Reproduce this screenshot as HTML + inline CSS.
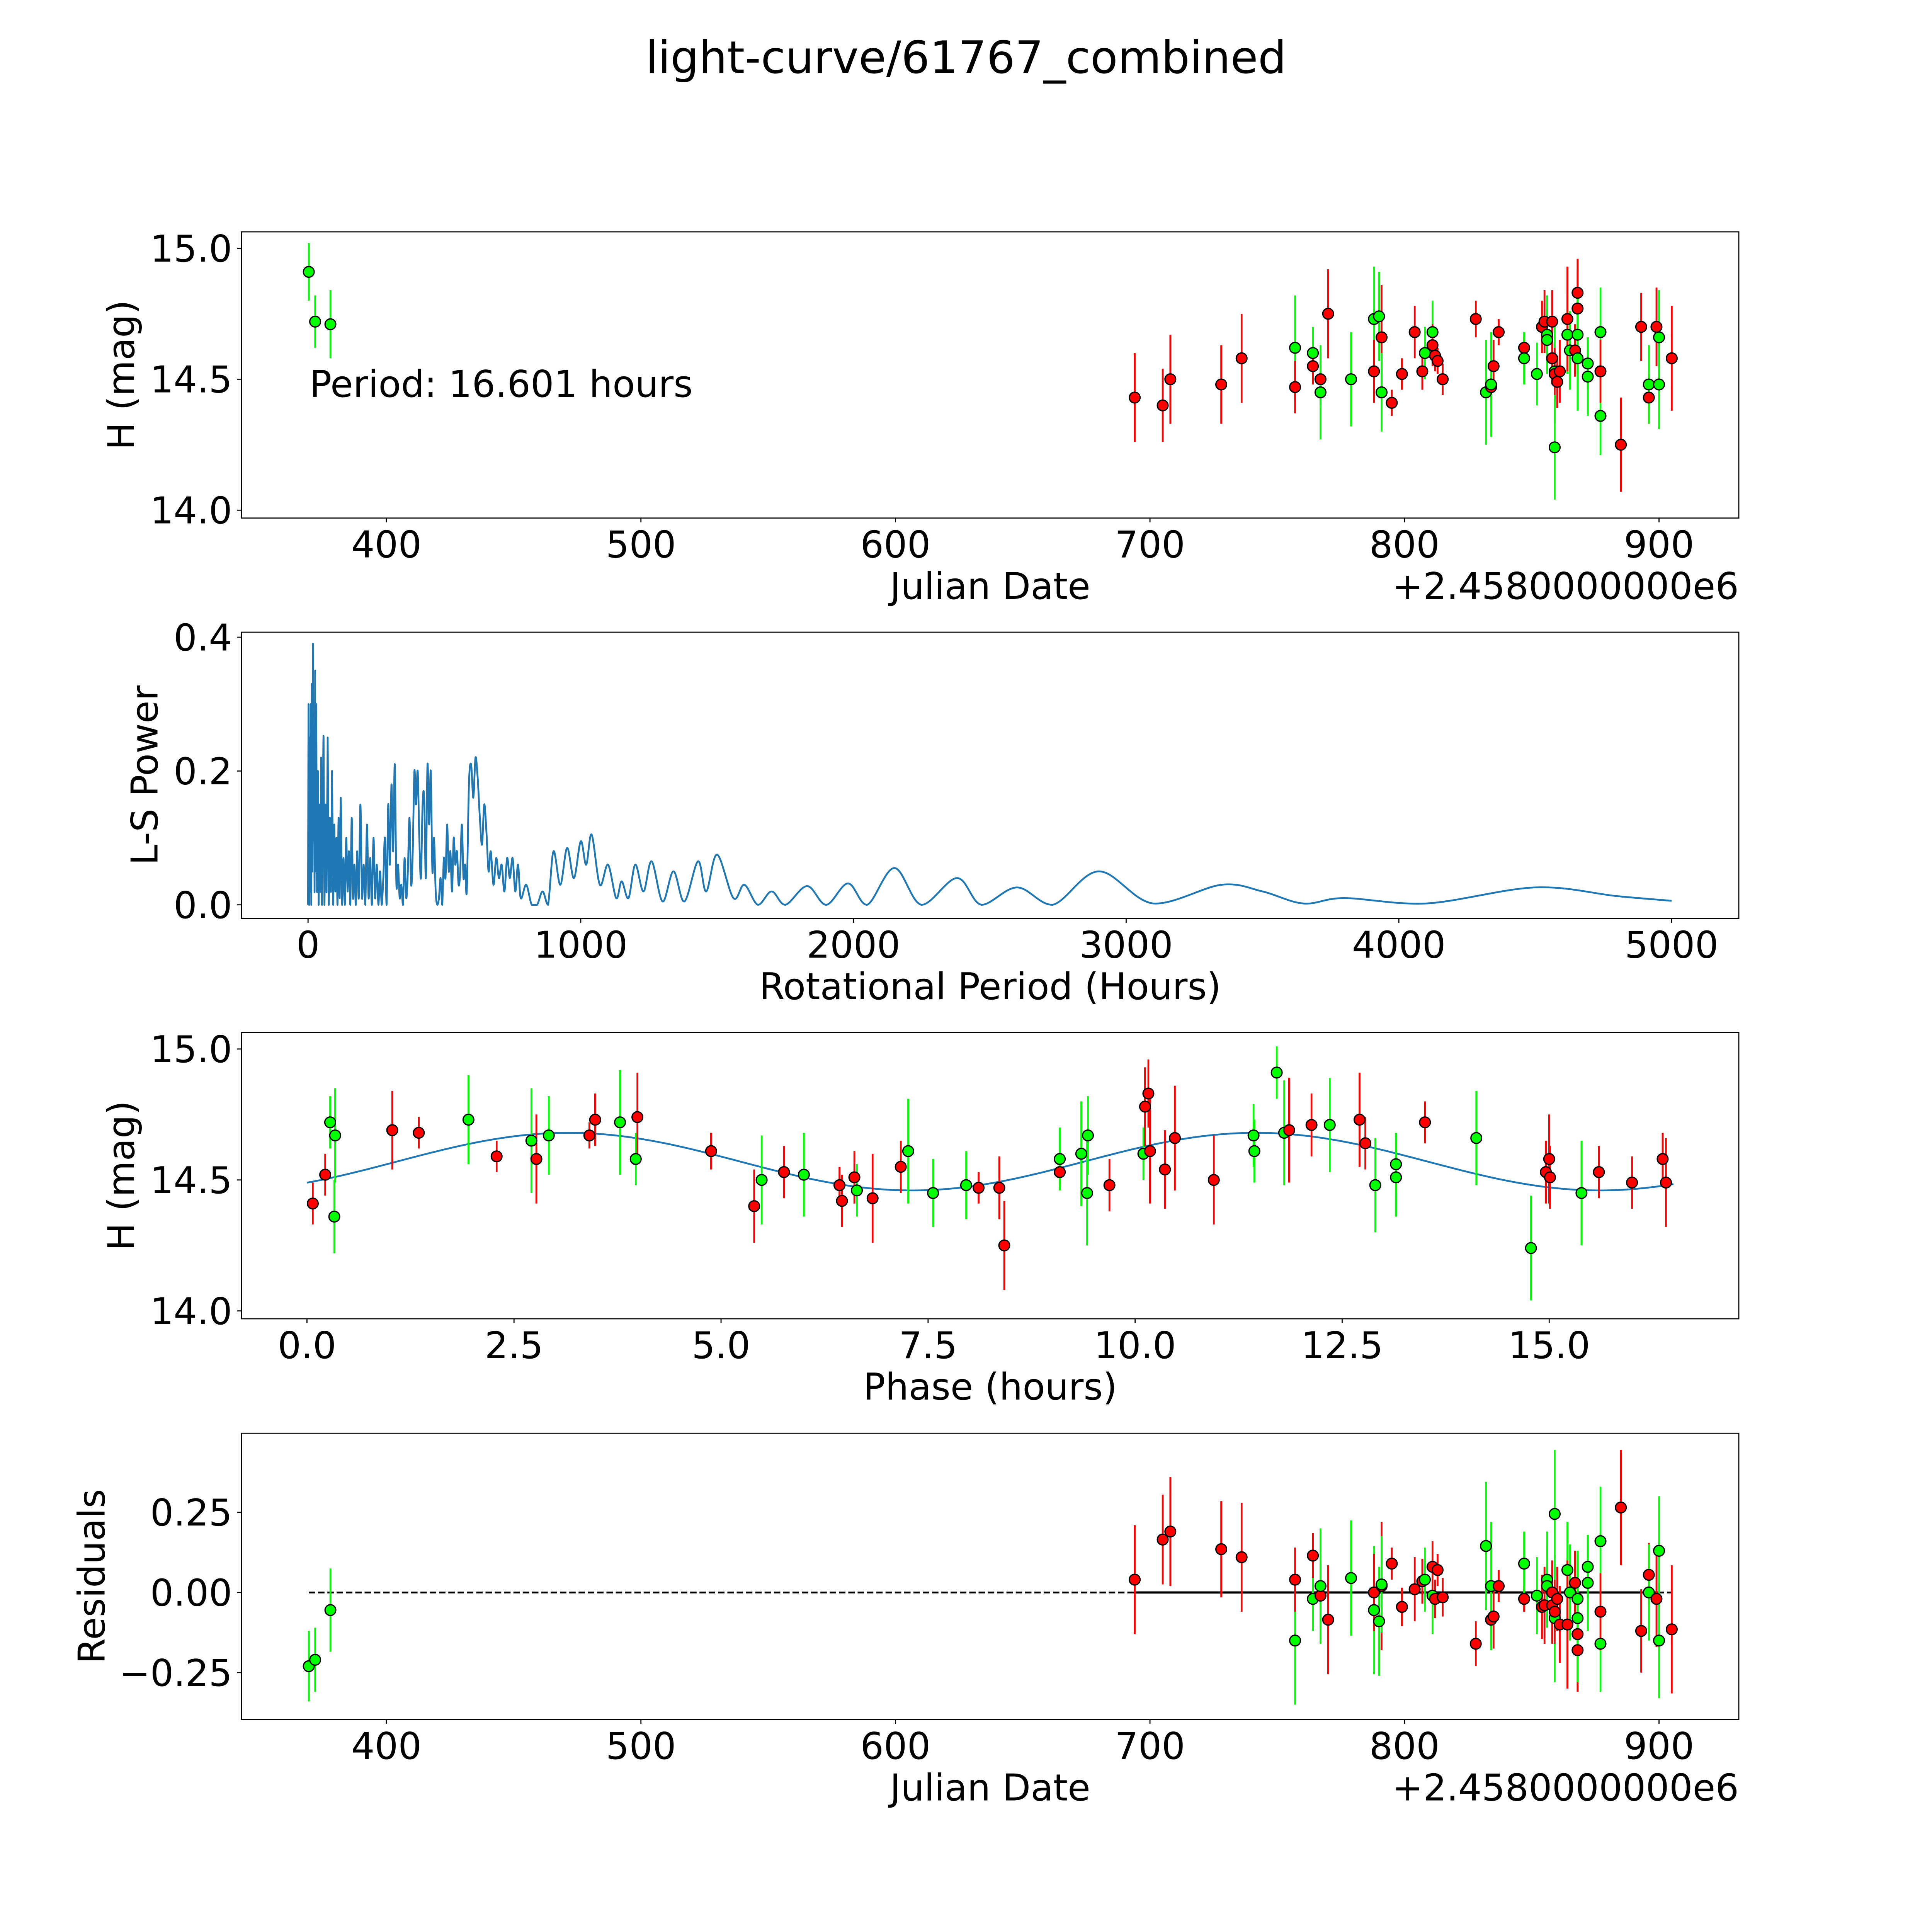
<!DOCTYPE html>
<html><head><meta charset="utf-8"><style>
html,body{margin:0;padding:0;background:#fff;width:100%;height:100%;overflow:hidden}
svg{display:block;width:100vw;height:100vh}
text{font-family:"DejaVu Sans","Liberation Sans",sans-serif;fill:#000}
</style></head><body>
<svg id="fig" xmlns="http://www.w3.org/2000/svg" viewBox="0 0 5400 5400" preserveAspectRatio="none">
<rect width="5400" height="5400" fill="#fff"/>
<text x="2700" y="204" font-size="125" text-anchor="middle">light-curve/61767_combined</text>
</svg>
<script>
// ---------- Panel 1: light curve ----------
const jd1 =  [369.5,372,378,694,705,708,728,736,757,757,764,764,767,767,770,779,788,788,790,791,791,795,799,804,807,808,811,811,812,813,815,828,832,834,834,835,837,847,847,852,854,855,856,856,858,858,859,859,859,860,861,864,864,865,867,868,868,868,868,872,872,877,877,877,885,893,896,896,900,900,899,905];
const mag1 = [14.91,14.72,14.71,14.43,14.40,14.50,14.48,14.58,14.62,14.47,14.60,14.55,14.50,14.45,14.75,14.50,14.73,14.53,14.74,14.66,14.45,14.41,14.52,14.68,14.53,14.60,14.68,14.63,14.59,14.57,14.50,14.73,14.45,14.47,14.48,14.55,14.68,14.62,14.58,14.52,14.70,14.72,14.67,14.65,14.72,14.58,14.53,14.52,14.24,14.49,14.53,14.67,14.73,14.61,14.61,14.77,14.83,14.67,14.58,14.56,14.51,14.68,14.36,14.53,14.25,14.70,14.43,14.48,14.48,14.66,14.70,14.58];
const err1 = [0.11,0.10,0.13,0.17,0.14,0.17,0.15,0.17,0.20,0.10,0.10,0.07,0.10,0.18,0.17,0.18,0.20,0.12,0.17,0.20,0.15,0.05,0.06,0.10,0.07,0.10,0.12,0.08,0.06,0.05,0.06,0.07,0.20,0.08,0.20,0.10,0.05,0.04,0.10,0.12,0.10,0.12,0.15,0.12,0.12,0.10,0.20,0.10,0.20,0.10,0.12,0.15,0.20,0.15,0.10,0.15,0.13,0.15,0.20,0.10,0.15,0.17,0.15,0.12,0.18,0.13,0.10,0.15,0.17,0.18,0.15,0.20];
const band1 = ["g","g","g","r","r","r","r","r","g","r","g","r","r","g","r","g","g","r","g","r","g","r","r","r","r","g","g","r","r","r","r","r","g","r","g","r","r","r","g","g","r","r","g","g","r","r","g","r","g","r","r","g","r","g","r","r","r","g","g","g","g","g","g","r","r","r","r","g","g","g","r","r"];
// ---------- Panel 4: residuals ----------
const res4 = [-0.23,-0.21,-0.055,0.04,0.165,0.19,0.135,0.11,-0.15,0.04,-0.02,0.115,-0.01,0.02,-0.085,0.045,-0.055,0.0,-0.09,0.02,0.025,0.09,-0.045,0.01,0.035,0.04,-0.01,0.08,-0.02,0.07,-0.015,-0.16,0.145,-0.085,0.02,-0.075,0.02,-0.02,0.09,-0.01,-0.045,-0.04,0.04,0.02,-0.04,0.0,-0.08,-0.06,0.245,-0.02,-0.1,0.07,-0.1,0.0,0.03,-0.13,-0.18,-0.02,-0.08,0.08,0.03,0.16,-0.16,-0.06,0.265,-0.12,0.055,0.0,0.13,-0.15,-0.02,-0.115];
// ---------- Panel 3: phased ----------
const phase3 = [0.07,0.22,0.28,0.34,0.33,1.03,1.35,1.95,2.29,2.71,2.77,2.92,3.41,3.48,3.78,3.99,3.97,4.88,5.40,5.49,5.76,6.00,6.43,6.46,6.61,6.64,6.83,7.17,7.26,7.56,7.96,8.11,8.36,8.42,9.09,9.09,9.35,9.43,9.42,9.69,10.1,10.12,10.16,10.18,10.36,10.48,10.95,11.43,11.44,11.71,11.8,11.86,12.13,12.35,12.71,12.78,12.9,13.15,13.15,13.5,14.12,14.78,14.96,15.0,15.01,15.39,15.6,16.0,16.37,16.41];
const pmag3 = [14.41,14.52,14.72,14.67,14.36,14.69,14.68,14.73,14.59,14.65,14.58,14.67,14.67,14.73,14.72,14.74,14.58,14.61,14.40,14.50,14.53,14.52,14.48,14.42,14.51,14.46,14.43,14.55,14.61,14.45,14.48,14.47,14.47,14.25,14.53,14.58,14.60,14.67,14.45,14.48,14.60,14.78,14.83,14.61,14.54,14.66,14.50,14.67,14.61,14.91,14.68,14.69,14.71,14.71,14.73,14.64,14.48,14.56,14.51,14.72,14.66,14.24,14.53,14.58,14.51,14.45,14.53,14.49,14.58,14.49];
const perr3 = [0.08,0.08,0.1,0.18,0.14,0.15,0.06,0.17,0.06,0.2,0.17,0.15,0.05,0.1,0.2,0.17,0.1,0.07,0.14,0.17,0.1,0.16,0.07,0.1,0.1,0.1,0.17,0.1,0.2,0.13,0.13,0.06,0.12,0.17,0.05,0.12,0.2,0.15,0.2,0.1,0.1,0.15,0.13,0.2,0.15,0.2,0.17,0.12,0.12,0.1,0.2,0.2,0.12,0.18,0.18,0.1,0.18,0.12,0.15,0.08,0.18,0.2,0.12,0.17,0.12,0.2,0.1,0.1,0.1,0.17];
const pband3 = ["r","r","g","g","g","r","r","g","r","g","r","g","r","r","g","r","g","r","r","g","r","g","r","r","r","g","r","r","g","g","g","r","r","r","r","g","g","g","g","r","g","r","r","r","r","r","r","g","g","g","g","r","r","g","r","r","g","g","g","r","g","g","r","r","r","g","r","r","r","r"];
const modelParams = [14.57, 0.11, 0.82, 16.601]; // mean, amplitude, phase offset, period
// ---------- Panel 2: periodogram ----------
const lsPeriod = [0,2,4,6,8,10,12,14,16,18,20,22,24,26,28,30,33,36,39,42,45,48,51,54,57,60,64,68,72,76,80,84,88,92,96,100,104,108,112,116,120,125,130,135,140,145,150,155,160,165,170,175,180,186,192,198,204,210,216,222,228,234,240,246,252,258,264,270,276,282,288,294,300,306,312,318,324,330,336,342,348,354,360,366,372,378,384,390,396,402,408,414,420,426,432,438,444,450,456,462,468,474,480,486,492,498,504,510,516,522,528,534,540,546,552,558,564,570,576,582,590,598,606,614,622,630,638,646,654,662,670,680,690,700,710,720,730,740,750,760,770,780,800,820,840,860,880,900,925,950,975,1000,1020,1040,1070,1100,1130,1150,1175,1200,1230,1260,1300,1340,1380,1430,1460,1500,1560,1600,1650,1700,1750,1830,1900,1980,2050,2150,2250,2380,2470,2600,2730,2900,3100,3350,3500,3650,3800,4100,4500,4800,5000];
const lsPower = [0,0.3,0,0.25,0.02,0.3,0,0.33,0.05,0.39,0.1,0.2,0.02,0.35,0.05,0.3,0.02,0.2,0,0.15,0.02,0.22,0,0.12,0.25,0,0.15,0.02,0.25,0,0.13,0.02,0.2,0,0.12,0.02,0.1,0,0.13,0.01,0.16,0,0.07,0,0.1,0.02,0.08,0,0.13,0.01,0.06,0,0.08,0.01,0.15,0.01,0.06,0,0.12,0.01,0.07,0,0.1,0.01,0.06,0,0.05,0,0.04,0.1,0,0.15,0.06,0.18,0.08,0.21,0.03,0.06,0.01,0.03,0,0.07,0.01,0.05,0.13,0.03,0.08,0.2,0.15,0.2,0.1,0.04,0.15,0.16,0.04,0.21,0.12,0.2,0.05,0.1,0.02,0,0.01,0.04,0,0.07,0.04,0.12,0.05,0.08,0.02,0.1,0.06,0.08,0.03,0.05,0.12,0.04,0.06,0.02,0.18,0.21,0.16,0.22,0.19,0.13,0.09,0.15,0.11,0.05,0.08,0.03,0.07,0.04,0.06,0.02,0.07,0.04,0.07,0.02,0.06,0.01,0.03,0,0,0.02,0,0.08,0.03,0.085,0.04,0.095,0.06,0.105,0.03,0.06,0.01,0.035,0.01,0.06,0.02,0.065,0.005,0.05,0.005,0.065,0.02,0.075,0.01,0.03,0,0.02,0,0.028,0,0.032,0,0.055,0,0.04,0,0.026,0,0.05,0.002,0.03,0.02,0.002,0.01,0.002,0.026,0.013,0.006];

const NS='http://www.w3.org/2000/svg';
const svg=document.getElementById('fig');
function el(tag,attrs,parent){const e=document.createElementNS(NS,tag);for(const k in attrs)e.setAttribute(k,attrs[k]);(parent||svg).appendChild(e);return e;}
const L=675,R=4860,H=800,FS=103;
const tops=[648,1767,2886,4006];
const COL={g:'#00ff00',r:'#ff0000'};
function lin(d0,p0,d1,p1){return v=>p0+(v-d0)*(p1-p0)/(d1-d0);}
const xJD=lin(400,1080,900,4637);
const y1=lin(15,694,14,1426);
const xLS=lin(0,861,5000,4672);
const y2=lin(0,2529,0.4,1781);
const xPh=lin(0,858,15,4330);
const y3=lin(15,2932,14,3664);
const y4=lin(0,4451,0.25,4227);

function frame(i,name){
  const t=tops[i];
  const r=el('rect',{x:L,y:t,width:R-L,height:H,fill:'none',stroke:'#000','stroke-width':3});
  
  
}
function xtick(i,x,label,name){
  const b=tops[i]+H;
  const l=el('line',{x1:x,y1:b,x2:x,y2:b+12,stroke:'#000','stroke-width':3});
  
  
  const t=el('text',{x:x,y:b+110,'font-size':FS,'text-anchor':'middle'});t.textContent=label;
  
  
}
function ytick(y,label,name){
  const l=el('line',{x1:L-12,y1:y,x2:L,y2:y,stroke:'#000','stroke-width':3});
  
  
  const t=el('text',{x:L-26,y:y+37,'font-size':FS,'text-anchor':'end'});t.textContent=label;
  
  
}
function xlabel(i,label,name){
  const t=el('text',{x:(L+R)/2,y:tops[i]+H+226,'font-size':FS,'text-anchor':'middle'});t.textContent=label;
  
  
}
function ylabel(i,x,label,name){
  const cy=tops[i]+H/2;
  const t=el('text',{x:0,y:0,'font-size':FS,'text-anchor':'middle',transform:`translate(${x},${cy}) rotate(-90)`});t.textContent=label;
  
  
}
function offsetText(i){
  const t=el('text',{x:R,y:tops[i]+H+226,'font-size':FS,'text-anchor':'end'});t.textContent='+2.4580000000e6';
  
  
}
function points(xs,ys,es,bands,fx,fy,scale,name){
  const g=el('g',{});
  
  
  for(let k=0;k<xs.length;k++){
    const x=fx(xs[k]),y=fy(ys[k]),e=es[k]*scale;
    const l=el('line',{x1:x,y1:y-e,x2:x,y2:y+e,stroke:COL[bands[k]],'stroke-width':5},g);
    
    
  }
  for(let k=0;k<xs.length;k++){
    const c=el('circle',{cx:fx(xs[k]),cy:fy(ys[k]),r:15,fill:COL[bands[k]],stroke:'#000','stroke-width':3.5},g);
    
    
  }
}

// Panel 1
frame(0,'light-curve');
[400,500,600,700,800,900].forEach(v=>xtick(0,xJD(v),String(v),'light-curve'));
[[14,'14.0'],[14.5,'14.5'],[15,'15.0']].forEach(p=>ytick(y1(p[0]),p[1],'light-curve'));
xlabel(0,'Julian Date','light-curve');offsetText(0);
ylabel(0,375,'H (mag)','light-curve');
points(jd1,mag1,err1,band1,xJD,y1,732,'light-curve');
{const t=el('text',{x:865,y:1109,'font-size':FS});t.textContent='Period: 16.601 hours';

}

// Panel 2
frame(1,'periodogram');
[0,1000,2000,3000,4000,5000].forEach(v=>xtick(1,xLS(v),String(v),'periodogram'));
[[0,'0.0'],[0.2,'0.2'],[0.4,'0.4']].forEach(p=>ytick(y2(p[0]),p[1],'periodogram'));
xlabel(1,'Rotational Period (Hours)','periodogram');
ylabel(1,440,'L-S Power','periodogram');
{
  const P=lsPeriod.map((p,k)=>[xLS(p),y2(lsPower[k])]);
  let d=`M${P[0][0]},${P[0][1]}`;
  for(let k=0;k<P.length-1;k++){
    const p0=P[k-1]||P[k],p1=P[k],p2=P[k+1],p3=P[k+2]||P[k+1];
    const c1=[p1[0]+(p2[0]-p0[0])/6,p1[1]+(p2[1]-p0[1])/6];
    const c2=[p2[0]-(p3[0]-p1[0])/6,p2[1]-(p3[1]-p1[1])/6];
    d+=` C${c1[0]},${Math.min(c1[1],2529)} ${c2[0]},${Math.min(c2[1],2529)} ${p2[0]},${p2[1]}`;
  }
  const path=el('path',{d:d,fill:'none',stroke:'#1f77b4','stroke-width':5,'stroke-linejoin':'round'});
  
  
}

// Panel 3
frame(2,'phase-curve');
[[0,'0.0'],[2.5,'2.5'],[5,'5.0'],[7.5,'7.5'],[10,'10.0'],[12.5,'12.5'],[15,'15.0']].forEach(p=>xtick(2,xPh(p[0]),p[1],'phase-curve'));
[[14,'14.0'],[14.5,'14.5'],[15,'15.0']].forEach(p=>ytick(y3(p[0]),p[1],'phase-curve'));
xlabel(2,'Phase (hours)','phase-curve');
ylabel(2,375,'H (mag)','phase-curve');
{
  let d='';
  for(let k=0;k<=330;k++){
    const p=k*16.5/330;
    const m=modelParams[0]+modelParams[1]*Math.sin(4*Math.PI*p/modelParams[3]-modelParams[2]);
    d+=(k?' L':'M')+xPh(p)+','+y3(m);
  }
  const path=el('path',{d:d,fill:'none',stroke:'#1f77b4','stroke-width':5});
  
  
}
points(phase3,pmag3,perr3,pband3,xPh,y3,732,'phase-curve');

// Panel 4
frame(3,'residuals');
[400,500,600,700,800,900].forEach(v=>xtick(3,xJD(v),String(v),'residuals'));
[[-0.25,'\u22120.25'],[0,'0.00'],[0.25,'0.25']].forEach(p=>ytick(y4(p[0]),p[1],'residuals'));
xlabel(3,'Julian Date','residuals');offsetText(3);
ylabel(3,292,'Residuals','residuals');
{
  const l=el('line',{x1:xJD(369.5),y1:y4(0),x2:xJD(905),y2:y4(0),stroke:'#000','stroke-width':5,'stroke-dasharray':'18,8'});
  
  
  const s=el('line',{x1:xJD(694),y1:y4(0),x2:xJD(900),y2:y4(0),stroke:'#000','stroke-width':6});
  
  
}
points(jd1,res4,err1,band1,xJD,y4,896,'residuals');
</script>
</body></html>
